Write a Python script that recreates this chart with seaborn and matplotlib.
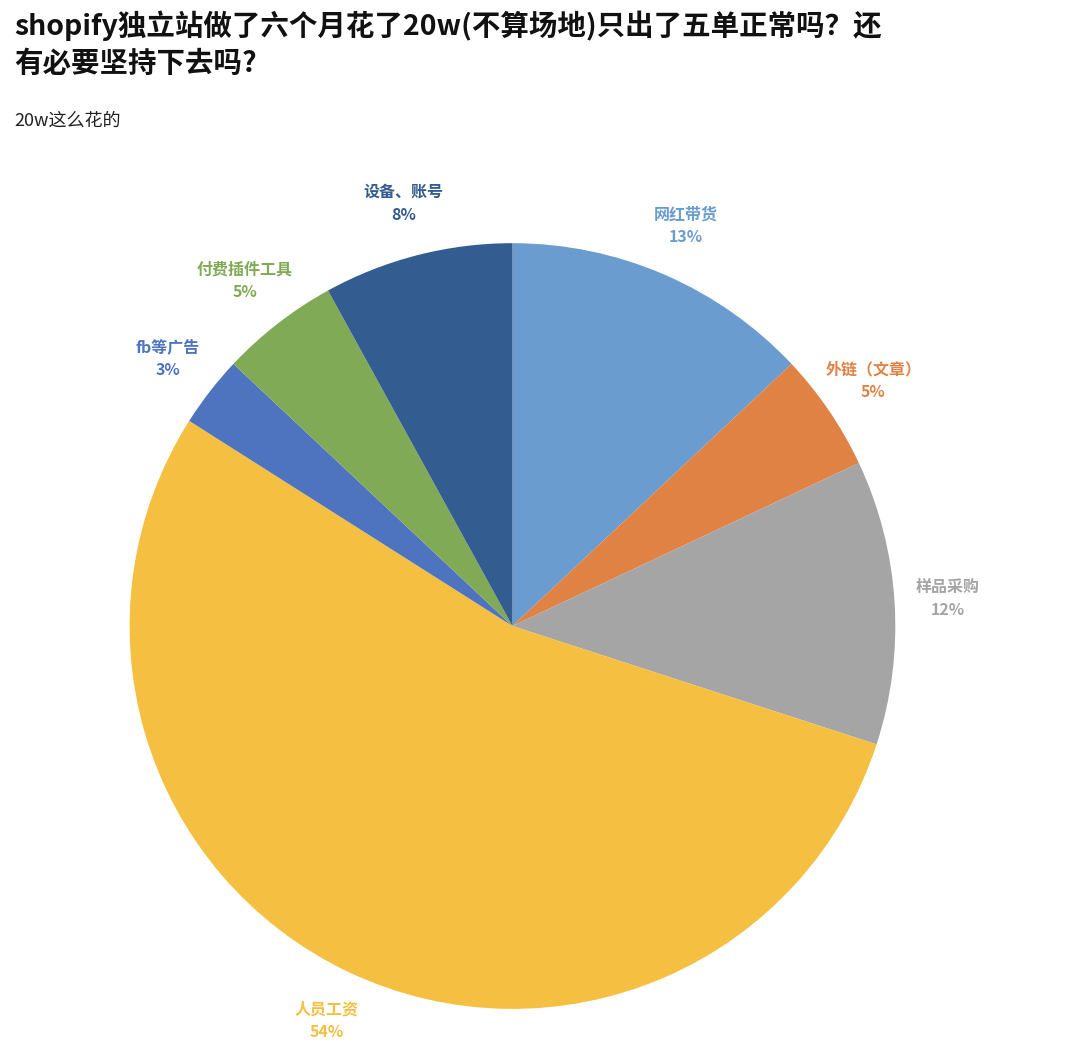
import matplotlib
matplotlib.use("Agg")
import matplotlib.pyplot as plt
import seaborn as sns

sns.set_theme(style="white")
plt.rcParams['font.family'] = ['Noto Sans CJK SC', 'DejaVu Sans']

categories = ["网红带货", "外链（文章）", "样品采购", "人员工资", "fb等广告", "付费插件工具", "设备、账号"]
values = [13, 5, 12, 54, 3, 5, 8]
colors = ["#6A9CD0", "#E08244", "#A5A5A5", "#F5BF42", "#4E74C0", "#80AA55", "#335D90"]

fig = plt.figure(figsize=(10.8, 10.42), dpi=100)
fig.text(0.013, 0.99, "shopify独立站做了六个月花了20w(不算场地)只出了五单正常吗？还\n有必要坚持下去吗?",
         fontsize=20.5, fontweight="bold", va="top", ha="left", linespacing=1.4, color="#111111")
fig.text(0.013, 0.893, "20w这么花的", fontsize=13, va="top", ha="left", color="#222222")

ax = fig.add_axes([0.120, 0.0317, 0.709, 0.735])
labels = [f"{c}\n{v}%" for c, v in zip(categories, values)]
wedges, texts = ax.pie(values, colors=colors, startangle=90, counterclock=False,
                       labels=labels, labeldistance=1.14,
                       wedgeprops=dict(linewidth=0))
for t, c in zip(texts, colors):
    t.set_color(c)
    t.set_fontsize(11.5)
    t.set_fontweight("bold")
    t.set_ha("center")
    t.set_va("center")
    t.set_linespacing(1.5)
    t.set_clip_on(False)
ax.set_xlim(-1, 1)
ax.set_ylim(-1, 1)
ax.set_aspect("equal")
ax.set_axis_off()
fig.savefig("out.png", dpi=100)
